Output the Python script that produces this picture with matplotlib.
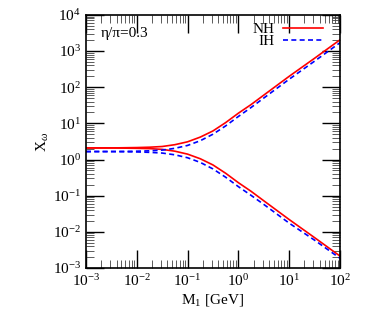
import matplotlib
matplotlib.use('Agg')
import matplotlib.pyplot as plt
from matplotlib.ticker import LogLocator, NullFormatter

plt.rcParams['font.family'] = ['Liberation Serif', 'DejaVu Serif']
plt.rcParams['mathtext.fontset'] = 'custom'
plt.rcParams['mathtext.rm'] = 'Liberation Serif'
plt.rcParams['mathtext.it'] = 'Liberation Serif:italic'

# M_1 in GeV
m1 = [1e-3, 3.16e-3, 1e-2, 1.78e-2, 3.16e-2, 5.62e-2, 0.1, 0.178,
      0.316, 0.562, 1.0, 1.78, 3.16, 10.0, 31.6, 100.0]

# X_omega, upper and lower branches
nh_up = [2.09, 2.09, 2.14, 2.19, 2.29, 2.57, 3.09, 4.17,
         6.17, 10.5, 19.1, 33.1, 60.3, 200.0, 631.0, 2042.0]
nh_lo = [2.09, 2.09, 2.04, 2.00, 1.91, 1.70, 1.41, 1.05,
         0.708, 0.417, 0.229, 0.132, 0.0724, 0.0219, 0.00692, 0.00214]
ih_up = [1.66, 1.66, 1.70, 1.74, 1.82, 2.04, 2.45, 3.31,
         5.01, 8.51, 15.5, 27.5, 50.1, 166.0, 525.0, 1698.0]
ih_lo = [1.66, 1.66, 1.62, 1.58, 1.51, 1.35, 1.12, 0.832,
         0.550, 0.324, 0.178, 0.102, 0.0575, 0.0174, 0.00589, 0.00186]

fig = plt.figure(figsize=(3.82, 3.2), dpi=100)
ax = fig.add_axes([0.225, 0.1625, 0.665, 0.791])

ax.plot(m1, nh_up, color='#ff0000', lw=1.2, label='NH')
ax.plot(m1, nh_lo, color='#ff0000', lw=1.2)
ax.plot(m1, ih_up, color='#0000ff', lw=1.2, ls=(0, (3, 2)), label='IH')
ax.plot(m1, ih_lo, color='#0000ff', lw=1.2, ls=(0, (3, 2)))

ax.set_xscale('log')
ax.set_yscale('log')
ax.set_xlim(1e-3, 1e2)
ax.set_ylim(1e-3, 1e4)

ax.xaxis.set_major_locator(LogLocator(base=10, numticks=10))
ax.yaxis.set_major_locator(LogLocator(base=10, numticks=10))
ax.xaxis.set_minor_locator(LogLocator(base=10, subs=range(2, 10), numticks=20))
ax.yaxis.set_minor_locator(LogLocator(base=10, subs=range(2, 10), numticks=20))
ax.xaxis.set_minor_formatter(NullFormatter())
ax.yaxis.set_minor_formatter(NullFormatter())

ax.tick_params(which='both', direction='in', top=True, right=True, labelsize=11)
ax.tick_params(which='major', length=13, width=1.0)
ax.tick_params(which='minor', length=6, width=0.6, color='0.25')
for s in ax.spines.values():
    s.set_linewidth(1.2)

ax.set_xlabel(r'M$_1$ [GeV]', fontsize=11, labelpad=2)
ax.set_ylabel(r'X$_\omega$', fontsize=11, labelpad=1)

ax.text(0.06, 0.925, 'η/π=0.3', transform=ax.transAxes, fontsize=11,
        va='center', ha='left')

ax.legend(loc='upper right', bbox_to_anchor=(0.933, 0.97), frameon=False,
          markerfirst=False, fontsize=11, handlelength=2.6, borderaxespad=0,
          borderpad=0, labelspacing=-0.12, handletextpad=0.6)

fig.savefig('out.png', dpi=100)
